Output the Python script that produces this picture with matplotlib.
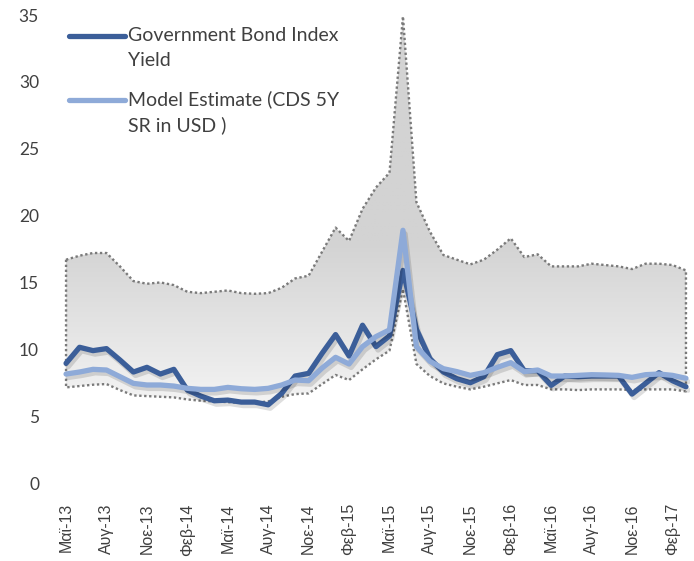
import numpy as np
import matplotlib
matplotlib.use("Agg")
import matplotlib.pyplot as plt
import matplotlib.patheffects as pe
from matplotlib.colors import LinearSegmentedColormap
from matplotlib.legend_handler import HandlerLine2D

# monthly observations, May-13 .. Mar-17
bond_yield = [8.95, 10.15, 9.9, 10.05, 9.2, 8.3, 8.65, 8.15, 8.5, 6.95,
              6.5, 6.15, 6.2, 6.05, 6.05, 5.85, 6.7, 8.0, 8.2, 9.7,
              11.1, 9.5, 11.8, 10.2, 11.0, 15.9, 11.5, 9.3, 8.3, 7.8,
              7.5, 7.95, 9.6, 9.9, 8.4, 8.4, 7.3, 8.0, 7.95, 8.0,
              8.0, 8.0, 6.65, 7.45, 8.25, 7.65, 7.2]
model_est = [8.15, 8.3, 8.5, 8.45, 7.95, 7.45, 7.33, 7.33, 7.25, 7.08,
             7.0, 7.0, 7.15, 7.05, 7.0, 7.08, 7.33, 7.7, 7.65, 8.6,
             9.4, 8.9, 10.2, 10.95, 11.45, 18.9, 10.2, 9.1, 8.55, 8.33,
             8.05, 8.25, 8.65, 9.0, 8.33, 8.45, 8.0, 8.0, 8.05, 8.1,
             8.08, 8.05, 7.9, 8.1, 8.15, 8.05, 7.83]
band_upper = [16.7, 17.0, 17.2, 17.2, 16.2, 15.1, 14.9, 15.0, 14.8, 14.3,
              14.2, 14.3, 14.4, 14.2, 14.15, 14.2, 14.6, 15.3, 15.5, 17.3,
              19.1, 18.1, 20.5, 22.1, 23.2, 34.9, 21.0, 18.8, 17.05, 16.7,
              16.35, 16.7, 17.45, 18.3, 16.9, 17.1, 16.2, 16.2, 16.2, 16.4,
              16.3, 16.2, 16.0, 16.4, 16.4, 16.3, 15.9]
band_lower = [7.15, 7.25, 7.35, 7.4, 6.95, 6.55, 6.5, 6.45, 6.4, 6.25,
              6.15, 6.1, 6.05, 6.0, 6.0, 6.1, 6.45, 6.65, 6.7, 7.4,
              8.08, 7.7, 8.5, 9.25, 9.9, 14.5, 8.9, 8.0, 7.45, 7.2,
              7.0, 7.2, 7.45, 7.7, 7.33, 7.33, 7.0, 7.0, 6.95, 7.0,
              7.0, 7.0, 6.95, 7.0, 7.0, 7.0, 6.85]
tick_labels = ["Μαϊ-13", "Αυγ-13", "Νοε-13", "Φεβ-14", "Μαϊ-14", "Αυγ-14",
               "Νοε-14", "Φεβ-15", "Μαϊ-15", "Αυγ-15", "Νοε-15", "Φεβ-16",
               "Μαϊ-16", "Αυγ-16", "Νοε-16", "Φεβ-17"]

DARK = "#3b5e99"
LIGHT = "#8eaad8"
TXT = "#404040"


class FirstLineHandler(HandlerLine2D):
    """Put the legend swatch next to the first text line (Excel style)."""
    def create_artists(self, legend, orig_handle, xdescent, ydescent,
                       width, height, fontsize, trans):
        arts = super().create_artists(legend, orig_handle, xdescent, ydescent,
                                      width, height, fontsize, trans)
        for a in arts:
            a.set_ydata(np.asarray(a.get_ydata()) + 0.62 * fontsize)
            a.set_path_effects([])
        return arts


x = np.arange(len(bond_yield))

fig = plt.figure(figsize=(6.94, 5.61), dpi=100)
ax = fig.add_axes([55 / 694, 78 / 561, 635 / 694, 468 / 561])

# shaded band with vertical gradient
band = ax.fill_between(x, band_lower, band_upper, facecolor="none",
                       edgecolor="#7a7a7a", linewidth=1.7,
                       linestyle=(0, (1, 1.1)), zorder=2)
yy = np.linspace(0, 35, 200)[:, None]
grad = np.clip((yy - 6) / 12, 0, 1) * np.ones((1, 2))
cmap = LinearSegmentedColormap.from_list("g", ["#f3f3f3", "#d3d3d3"])
im = ax.imshow(grad, extent=[x[0], x[-1], 0, 35], origin="lower",
               aspect="auto", cmap=cmap, vmin=0, vmax=1, zorder=1)
clip = ax.fill_between(x, band_lower, band_upper, facecolor="none",
                       edgecolor="none")
im.set_clip_path(clip.get_paths()[0], transform=ax.transData)

shadow = [pe.SimpleLineShadow(offset=(1.5, -2.5), shadow_color="k", alpha=0.13),
          pe.Normal()]
l1, = ax.plot(x, bond_yield, color=DARK, lw=3.8, solid_joinstyle="round",
              solid_capstyle="round", path_effects=shadow, zorder=3,
              label="Government Bond Index\nYield")
l2, = ax.plot(x, model_est, color=LIGHT, lw=3.8, solid_joinstyle="round",
              solid_capstyle="round", path_effects=shadow, zorder=4,
              label="Model Estimate (CDS 5Y\nSR in USD )")

ax.set_xlim(-0.82, 46.3)
ax.set_ylim(0, 35)
ax.set_yticks(np.arange(0, 36, 5))
ax.set_xticks(np.arange(0, 3 * len(tick_labels), 3))
ax.set_xticklabels(tick_labels, rotation=90, fontsize=11.5,
                   family="Liberation Sans", color=TXT)
for t in ax.get_yticklabels():
    t.set_family("Lato")
    t.set_fontsize(12.5)
    t.set_color(TXT)
ax.tick_params(axis="both", length=0)
ax.tick_params(axis="y", pad=11.5)
ax.tick_params(axis="x", pad=14.5)
for s in ax.spines.values():
    s.set_visible(False)

leg = ax.legend(handles=[l1, l2], loc="upper left",
                bbox_to_anchor=(0.022, 0.974), frameon=False,
                prop={"family": "Lato", "size": 14},
                handlelength=2.9, handletextpad=0.15, labelspacing=1.1,
                borderpad=0, borderaxespad=0,
                handler_map={l1: FirstLineHandler(), l2: FirstLineHandler()})
for t in leg.get_texts():
    t.set_color(TXT)
    t.set_linespacing(1.55)

fig.savefig("out.png", dpi=100)
